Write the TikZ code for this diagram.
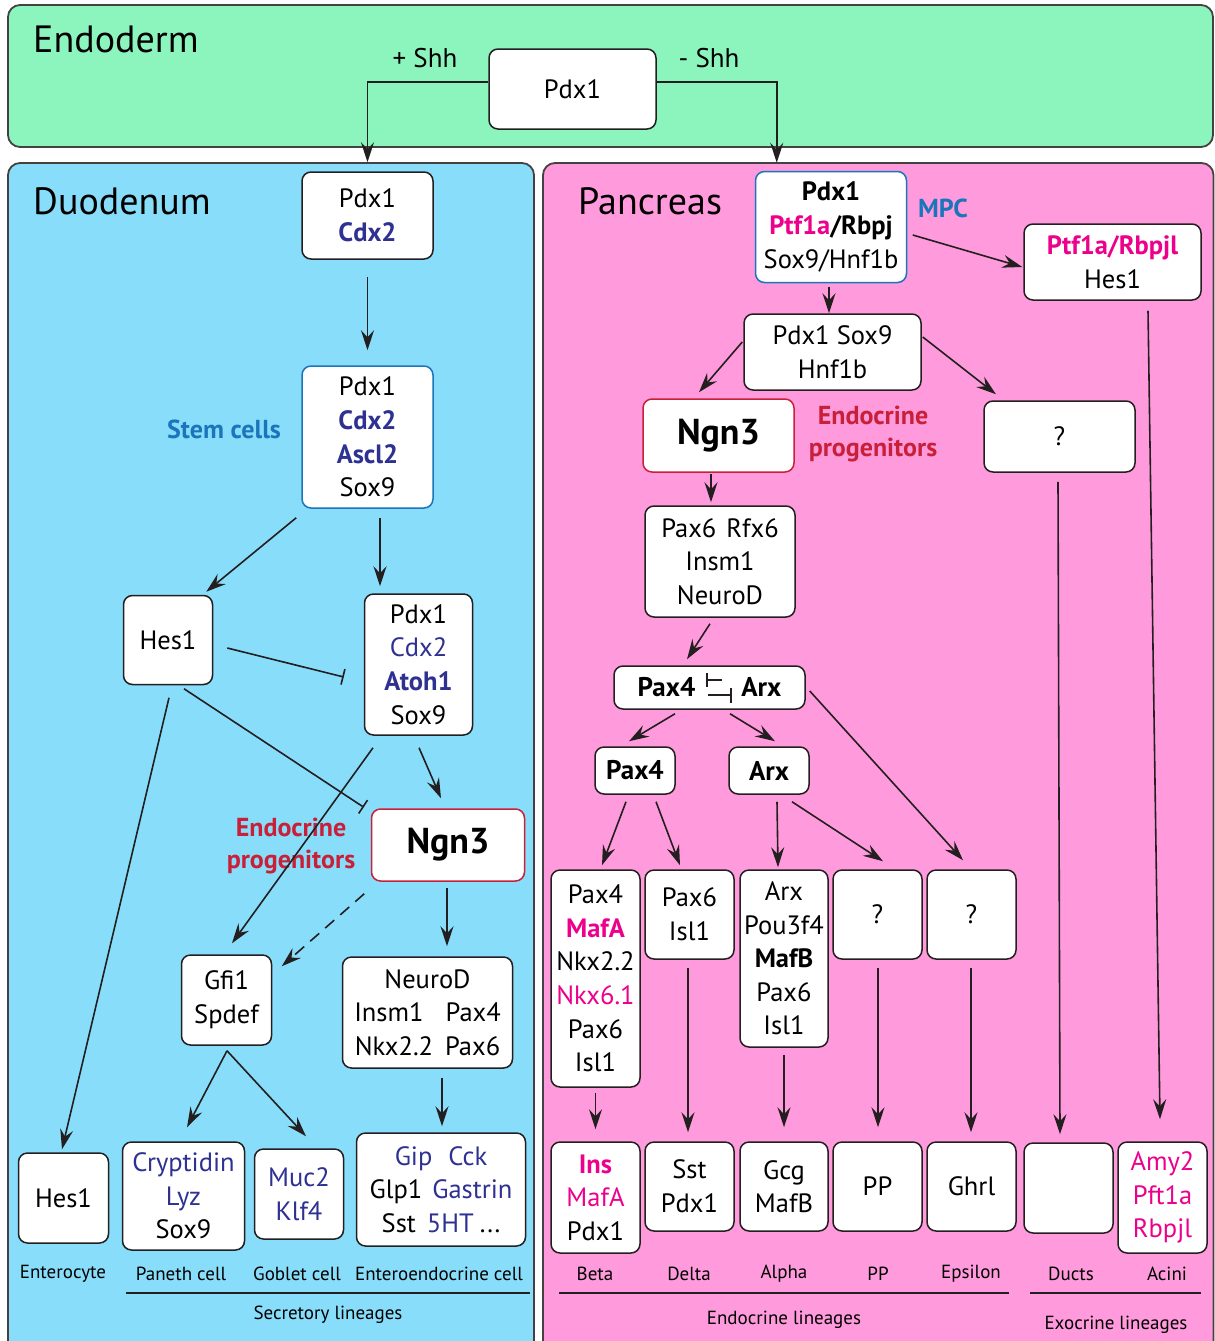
\documentclass[tikz,border=0pt]{standalone}
\usepackage{fontspec}
\setmainfont{PT Sans}
\usetikzlibrary{arrows.meta,calc}
\definecolor{endo}{HTML}{8CF5BE}
\definecolor{duo}{HTML}{88DEFA}
\definecolor{panc}{HTML}{FF9BDC}
\definecolor{dblue}{HTML}{2E3192}
\definecolor{lblue}{HTML}{1B75BB}
\definecolor{mag}{HTML}{EC008C}
\definecolor{pred}{HTML}{C9203A}
\definecolor{ink}{HTML}{231F20}
\begin{document}
\begin{tikzpicture}[x=1pt,y=-1pt,
  panel/.style={draw=ink!85, line width=1.8pt, rounded corners=12pt},
  box/.style={draw=ink, fill=white, line width=1.5pt, rounded corners=9pt, align=center, inner sep=0pt,
    font=\fontsize{26.5}{33.6}\selectfont},
  ngnbox/.style={box, draw=pred, font=\fontsize{36}{40}\selectfont\bfseries},
  stembox/.style={box, draw=lblue},
  title/.style={font=\fontsize{38}{44}\selectfont, inner sep=0pt},
  lab/.style={font=\fontsize{19}{22}\selectfont, inner sep=0pt},
  redlab/.style={font=\fontsize{26}{31.5}\selectfont\bfseries, text=pred, align=center, inner sep=0pt},
  bluelab/.style={font=\fontsize{26}{30}\selectfont\bfseries, text=lblue, inner sep=0pt},
  shh/.style={font=\fontsize{27}{30}\selectfont, inner sep=0pt},
  boldbox/.style={box, font=\fontsize{27}{30}\selectfont\bfseries},
  arr/.style={draw=ink, line width=1.6pt, -{Stealth[length=20pt,width=13pt,inset=7pt]}},
  inh/.style={draw=ink, line width=1.6pt, -{Bar[width=16pt,line width=1.6pt]}},
  thinl/.style={draw=ink, line width=1.3pt},
  ruleline/.style={draw=ink, line width=1.5pt}
]
\useasboundingbox (0,0) rectangle (1215,1341);
\fill[white] (0,0) rectangle (1215,1341);
% panels
\draw[panel, fill=endo] (8,5) rectangle (1213,147);
\draw[panel, fill=duo] (8,163) rectangle (534,1360);
\draw[panel, fill=panc] (543,163) rectangle (1213.5,1360);

% titles
\node[title, anchor=west] (tendo) at (33,39) {Endoderm};
\node[title, anchor=west] (tduo) at (33,201) {Duodenum};
\node[title, anchor=west] (tpanc) at (578,201) {Pancreas};

% endoderm
\node[box, minimum width=167, minimum height=80] (pdx0) at (572.5,89) {Pdx1};
\node[shh] (plus) at (425,58) {+ Shh};
\node[shh] (minus) at (709,58) {- Shh};

% duodenum nodes
\node[box, minimum width=131, minimum height=87] (d1) at (367.5,215.5) {Pdx1\\\textbf{\color{dblue}Cdx2}};
\node[stembox, minimum width=131, minimum height=142] (stem) at (367.5,437) {Pdx1\\\textbf{\color{dblue}Cdx2}\\\textbf{\color{dblue}Ascl2}\\Sox9};
\node[bluelab] (stemlab) at (224,429) {Stem cells};
\node[box, minimum width=89, minimum height=89] (hes1) at (168,640) {Hes1};
\node[box, minimum width=108, minimum height=141] (atoh) at (418.5,664.5) {Pdx1\\{\color{dblue}Cdx2}\\\textbf{\color{dblue}Atoh1}\\Sox9};
\node[ngnbox, minimum width=153, minimum height=72] (dngn) at (448,845) {Ngn3};
\node[redlab] (dendo) at (291,846) {Endocrine\\progenitors};
\node[box, minimum width=90, minimum height=90] (gfi) at (226.5,1000) {Gfi1\\Spdef};
\node[box, minimum width=170, minimum height=111] (neurod) at (427.5,1012.5) {NeuroD\\Insm1\hspace{22pt}Pax4\\Nkx2.2\hspace{12pt}Pax6};
\node[box, minimum width=90, minimum height=90] (hes1b) at (63.5,1198) {Hes1};
\node[box, minimum width=122, minimum height=108] (cryp) at (183.5,1196) {{\color{dblue}Cryptidin}\\{\color{dblue}Lyz}\\Sox9};
\node[box, minimum width=89, minimum height=90] (muc) at (299,1194) {{\color{dblue}Muc2}\\{\color{dblue}Klf4}};
\node[box, minimum width=169, minimum height=113] (gip) at (441,1189.5) {{\color{dblue}Gip\hspace{16pt}Cck}\\Glp1\hspace{10pt}{\color{dblue}Gastrin}\\Sst\hspace{11pt}{\color{dblue}5HT}\hspace{6pt}...};

\node[lab] (lent) at (63,1274) {Enterocyte};
\node[lab] (lpan) at (181,1274) {Paneth cell};
\node[lab] (lgob) at (297,1274) {Goblet cell};
\node[lab] (lee) at (439,1274) {Enteroendocrine cell};
\coordinate (sl1) at (126,1293);
\coordinate (sl2) at (530,1293);
\draw[ruleline] (sl1) -- (sl2);
\node[lab] (lsec) at (328,1315) {Secretory lineages};

% pancreas nodes
\node[stembox, minimum width=151, minimum height=111] (mpc) at (831,227) {\textbf{Pdx1}\\\textbf{\color{mag}Ptf1a}\textbf{/Rbpj}\\Sox9/Hnf1b};
\node[bluelab] (mpclab) at (943,208) {MPC};
\node[box, minimum width=177, minimum height=76] (ptfl) at (1112.5,262) {\textbf{\color{mag}Ptf1a/Rbpjl}\\Hes1};
\node[box, minimum width=177, minimum height=76] (ps) at (832.5,352) {Pdx1 Sox9\\Hnf1b};
\node[ngnbox, minimum width=151, minimum height=73] (pngn) at (718.5,435.5) {Ngn3};
\node[redlab] (pendo) at (873,434) {Endocrine\\progenitors};
\node[box, minimum width=151, minimum height=71] (pq) at (1059.5,436.5) {?};
\node[box, minimum width=150, minimum height=111] (prfx) at (720,561.5) {Pax6\hspace{10pt}Rfx6\\Insm1\\NeuroD};
\node[boldbox, minimum width=191, minimum height=43] (pa) at (709.5,687.5) {Pax4\hspace{46pt}Arx};
\node[boldbox, minimum width=80, minimum height=47] (ppax4) at (635,770.5) {Pax4};
\node[boldbox, minimum width=80, minimum height=47] (parx) at (769,770.5) {Arx};

\node[box, minimum width=89, minimum height=217] (bpre) at (595.5,978.5) {Pax4\\\textbf{\color{mag}MafA}\\Nkx2.2\\{\color{mag}Nkx6.1}\\Pax6\\Isl1};
\node[box, minimum width=89, minimum height=89] (dpre) at (689.5,914.5) {Pax6\\Isl1};
\node[box, minimum width=88, minimum height=177] (apre) at (784,958.5) {Arx\\Pou3f4\\\textbf{MafB}\\Pax6\\Isl1};
\node[box, minimum width=89, minimum height=89] (pppre) at (877.5,914.5) {?};
\node[box, minimum width=89, minimum height=89] (epre) at (971.5,914.5) {?};

\node[box, minimum width=89, minimum height=111] (beta) at (595.5,1197.5) {\textbf{\color{mag}Ins}\\{\color{mag}MafA}\\Pdx1};
\node[box, minimum width=89, minimum height=89] (delta) at (689.5,1186.5) {Sst\\Pdx1};
\node[box, minimum width=88, minimum height=89] (alpha) at (784,1186.5) {Gcg\\MafB};
\node[box, minimum width=89, minimum height=89] (pp) at (877.5,1186.5) {PP};
\node[box, minimum width=89, minimum height=89] (eps) at (971.5,1186.5) {Ghrl};
\node[box, minimum width=89, minimum height=90] (ducts) at (1068.5,1188) {};
\node[box, minimum width=89, minimum height=111] (acini) at (1162.5,1197.5) {{\color{mag}Amy2}\\{\color{mag}Pft1a}\\{\color{mag}Rbpjl}};

\node[lab] (lbeta) at (595,1274) {Beta};
\node[lab] (ldelta) at (689,1274) {Delta};
\node[lab] (lalpha) at (784,1274) {Alpha};
\node[lab] (lpp) at (878,1274) {PP};
\node[lab] (leps) at (971,1274) {Epsilon};
\node[lab] (lducts) at (1071,1274) {Ducts};
\node[lab] (lacini) at (1167,1274) {Acini};
\coordinate (el1) at (559,1293);
\coordinate (el2) at (1009,1293);
\coordinate (xl1) at (1030,1293);
\coordinate (xl2) at (1201,1293);
\draw[ruleline] (el1) -- (el2);
\draw[ruleline] (xl1) -- (xl2);
\node[lab] (lendl) at (784,1320) {Endocrine lineages};
\node[lab] (lexol) at (1116,1325) {Exocrine lineages};

% endoderm connectors
\draw[arr, shorten >=9pt] ([yshift=7pt]pdx0.west) -| (d1.north);
\draw[arr, shorten >=8pt] ([yshift=7pt]pdx0.east) -| ($(mpc.north west)+(22,0)$);

% duodenum connectors
\draw[arr] ($(d1.south)+(0,17)$) -- ($(stem.north)+(0,-15)$);
\draw[arr] ($(stem.south west)+(-5,9)$) -- ($(hes1.north east)+(-7,-3)$);
\draw[arr] ($(stem.south)+(12.5,9)$) -- ($(atoh.north)+(-38.5,-7)$);
\draw[inh] ($(hes1.east)+(14,8)$) -- ($(atoh.west)+(-20,12.5)$);
\draw[inh] ($(hes1.south)+(16,3.5)$) -- ($(dngn.north west)+(-7,-1)$);
\draw[arr] ($(hes1.south)+(1,12.5)$) -- ($(hes1b.north)+(-1.5,-3)$);
\draw[arr] ($(atoh.south)+(-45.5,12)$) -- ($(gfi.north)+(5.5,-11)$);
\draw[arr] ($(atoh.south)+(0.5,12)$) -- ($(dngn.north)+(-7,-10)$);
\draw[arr, dashed, dash pattern=on 12pt off 8pt] ($(dngn.south west)+(-6.5,12)$) -- ($(gfi.north east)+(9.5,12)$);
\draw[arr] ($(dngn.south)+(-1,6)$) -- ($(neurod.north)+(19.5,-10)$);
\draw[arr] ($(gfi.south)+(0.5,5)$) -- ($(cryp.north)+(3.5,-14)$);
\draw[arr] ($(gfi.south)+(0.5,5)$) -- ($(muc.north)+(7,-12)$);
\draw[arr] ($(neurod.south)+(14.5,9)$) -- ($(gip.north)+(1,-6)$);

% pancreas connectors
\draw[arr] ($(mpc.east)+(5.5,8)$) -- ($(ptfl.west)+(-1,5)$);
\draw[arr] ($(mpc.south)+(-2,3.5)$) -- ($(ps.north)+(-3.5,0)$);
\draw[arr] ($(ps.west)+(-1,-10)$) -- ($(pngn.north)+(-19.5,-6)$);
\draw[arr] ($(ps.east)+(1,-15)$) -- ($(pq.north)+(-63.5,-6)$);
\draw[arr] ($(pngn.south)+(-7.5,1)$) -- ($(prfx.north)+(-9,-3)$);
\draw[arr] ($(prfx.south)+(-10,6)$) -- ($(pa.north)+(-22.5,-6)$);
\draw[arr] ($(pa.south)+(-34.5,4)$) -- ($(ppax4.north)+(-6,-5)$);
\draw[arr] ($(pa.south)+(20.5,4)$) -- ($(parx.north)+(6,-5)$);
\draw[arr] ($(pa.east)+(4,3.5)$) -- ($(epre.north)+(-8.5,-9)$);
\draw[arr] ($(ppax4.south)+(-9,7)$) -- ($(bpre.north)+(6.5,-4)$);
\draw[arr] ($(ppax4.south)+(21,7)$) -- ($(dpre.north)+(-9.5,-4)$);
\draw[arr] ($(parx.south)+(8,7)$) -- ($(apre.north)+(-6,-2)$);
\draw[arr] ($(parx.south)+(23,7)$) -- ($(pppre.north)+(5.5,-8)$);
\draw[arr] ($(bpre.south)+(0,5)$) -- ($(beta.north)+(0,-12)$);
\draw[arr] ($(dpre.south)+(-1.5,8)$) -- ($(delta.north)+(-1.5,-9)$);
\draw[arr] ($(apre.south)+(0,7)$) -- ($(alpha.north)+(0,-14)$);
\draw[arr] ($(pppre.south)+(0.5,8)$) -- ($(pp.north)+(0.5,-14)$);
\draw[arr] ($(epre.south)+(-0.5,8)$) -- ($(eps.north)+(-0.5,-9)$);
\draw[arr] ($(pq.south)+(-1.5,9)$) -- ($(ducts.north)+(-8.5,-8)$);
\draw[arr] ($(ptfl.south)+(35.5,10)$) -- ($(acini.north)+(-2.5,-22)$);

% mutual inhibition symbol
\draw[thinl] ($(pa.center)+(-2.5,-14.5)$) -- ($(pa.center)+(-2.5,-0.5)$);
\draw[thinl] ($(pa.center)+(-2.5,-7.5)$) -- ($(pa.center)+(12.5,-7.5)$);
\draw[thinl] ($(pa.center)+(-1.5,7.5)$) -- ($(pa.center)+(21.5,7.5)$);
\draw[thinl] ($(pa.center)+(21.5,0.5)$) -- ($(pa.center)+(21.5,15.5)$);
\end{tikzpicture}
\end{document}
